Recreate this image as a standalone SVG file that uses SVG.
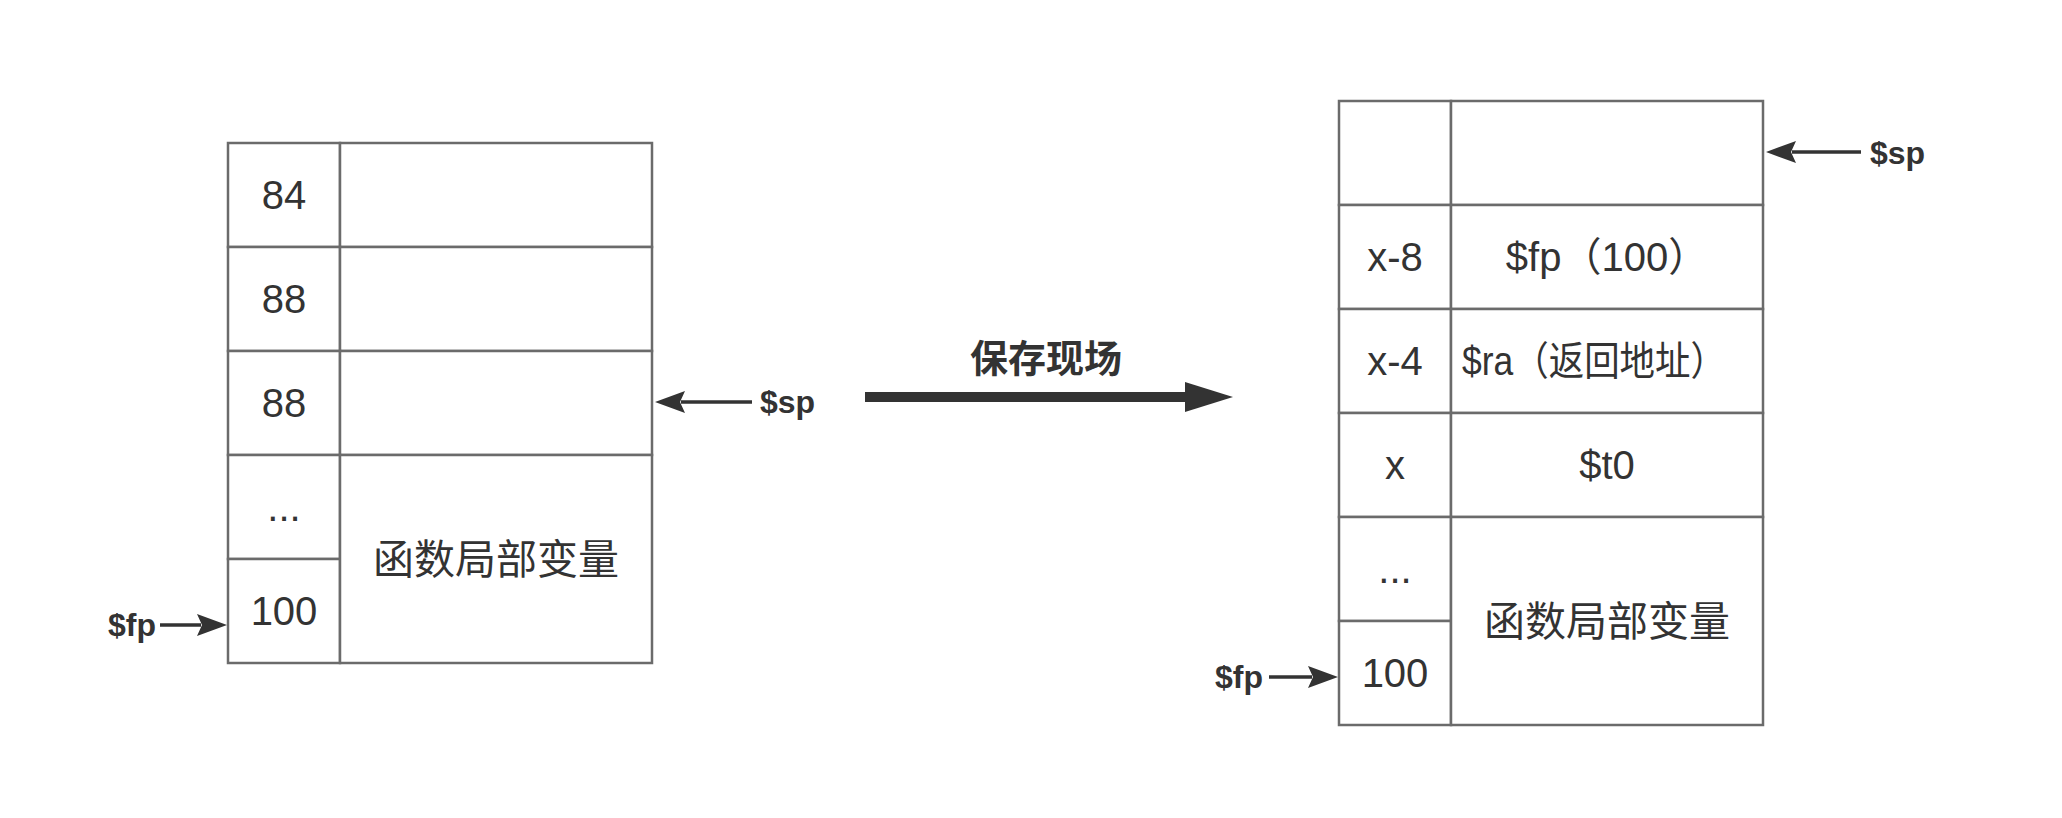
<svg xmlns="http://www.w3.org/2000/svg" width="2062" height="818" viewBox="0 0 2062 818">
<style>
.cell{fill:#fff;stroke:#6b6b6b;stroke-width:2.5}
.t{font-family:"Liberation Sans","Noto Sans CJK SC",sans-serif;font-size:40px;fill:#333;text-anchor:middle}
.cjk{font-size:41px}
.lbl{font-family:"Liberation Sans","Noto Sans CJK SC",sans-serif;font-size:32px;font-weight:bold;fill:#333}
.big{font-family:"Liberation Sans","Noto Sans CJK SC",sans-serif;font-size:38px;font-weight:bold;fill:#333;text-anchor:middle}
.ln{stroke:#333;stroke-width:3.5;fill:none}
</style>
<defs>
<marker id="ah" markerUnits="userSpaceOnUse" markerWidth="32" markerHeight="26" refX="4" refY="13" orient="auto">
<path d="M0,2 L30,13 L0,24 L5,13 Z" fill="#333"/>
</marker>
<marker id="bigah" markerUnits="userSpaceOnUse" markerWidth="50" markerHeight="34" refX="2" refY="17" orient="auto">
<path d="M0,2 L48,17 L0,32 Z" fill="#333"/>
</marker>
</defs>
<rect width="2062" height="818" fill="#fff"/>

<g id="left-stack">
<rect class="cell" x="228" y="143" width="112" height="104"/>
<rect class="cell" x="340" y="143" width="312" height="104"/>
<rect class="cell" x="228" y="247" width="112" height="104"/>
<rect class="cell" x="340" y="247" width="312" height="104"/>
<rect class="cell" x="228" y="351" width="112" height="104"/>
<rect class="cell" x="340" y="351" width="312" height="104"/>
<rect class="cell" x="228" y="455" width="112" height="104"/>
<rect class="cell" x="228" y="559" width="112" height="104"/>
<rect class="cell" x="340" y="455" width="312" height="208"/>
<text class="t" x="284" y="209">84</text>
<text class="t" x="284" y="313">88</text>
<text class="t" x="284" y="417">88</text>
<text class="t" x="284" y="521">...</text>
<text class="t" x="284" y="625">100</text>
<text class="t cjk" x="496" y="574">函数局部变量</text>
</g>

<g id="right-stack">
<rect class="cell" x="1339" y="101" width="112" height="104"/>
<rect class="cell" x="1451" y="101" width="312" height="104"/>
<rect class="cell" x="1339" y="205" width="112" height="104"/>
<rect class="cell" x="1451" y="205" width="312" height="104"/>
<rect class="cell" x="1339" y="309" width="112" height="104"/>
<rect class="cell" x="1451" y="309" width="312" height="104"/>
<rect class="cell" x="1339" y="413" width="112" height="104"/>
<rect class="cell" x="1451" y="413" width="312" height="104"/>
<rect class="cell" x="1339" y="517" width="112" height="104"/>
<rect class="cell" x="1339" y="621" width="112" height="104"/>
<rect class="cell" x="1451" y="517" width="312" height="208"/>
<text class="t" x="1395" y="271">x-8</text>
<text class="t" x="1607" y="271">$fp（100）</text>
<text class="t" x="1395" y="375">x-4</text>
<text class="t" x="1594" y="375" textLength="264" lengthAdjust="spacingAndGlyphs">$ra（返回地址）</text>
<text class="t" x="1395" y="479">x</text>
<text class="t" x="1607" y="479">$t0</text>
<text class="t" x="1395" y="583">...</text>
<text class="t" x="1395" y="687">100</text>
<text class="t cjk" x="1607" y="636">函数局部变量</text>
</g>

<g id="pointer-labels">
<text class="lbl" x="760" y="413">$sp</text>
<text class="lbl" x="108" y="636">$fp</text>
<text class="lbl" x="1870" y="164">$sp</text>
<text class="lbl" x="1215" y="688">$fp</text>
<text class="big" x="1046" y="372">保存现场</text>
</g>

<g id="connectors">
<line class="ln" x1="752" y1="402" x2="681" y2="402" marker-end="url(#ah)"/>
<line class="ln" x1="160" y1="625" x2="201" y2="625" marker-end="url(#ah)"/>
<line class="ln" x1="1861" y1="152" x2="1792" y2="152" marker-end="url(#ah)"/>
<line class="ln" x1="1269" y1="677" x2="1312" y2="677" marker-end="url(#ah)"/>
<line x1="865" y1="397" x2="1187" y2="397" stroke="#333" stroke-width="10" marker-end="url(#bigah)"/>
</g>
</svg>
